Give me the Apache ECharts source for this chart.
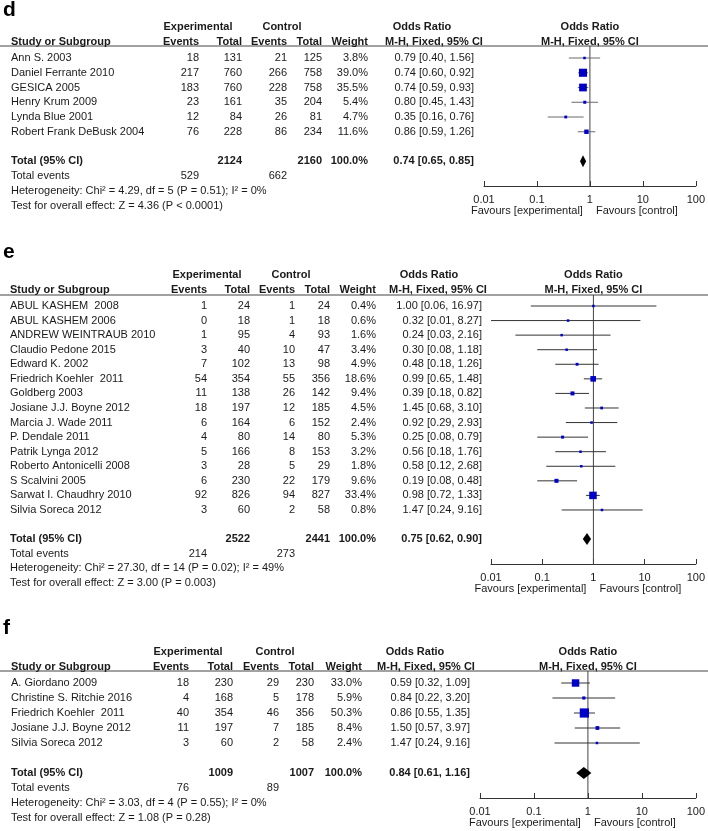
<!DOCTYPE html>
<html>
<head>
<meta charset="utf-8">
<title>Forest plots d-f</title>
<script src="https://cdn.jsdelivr.net/npm/echarts@6/dist/echarts.min.js"></script>
<style>
  html, body { margin: 0; padding: 0; background: #fff; }
  #chart { width: 708px; height: 831px; }
</style>
</head>
<body>
<div id="chart"></div>
<script>
const axisTicks = ['0.01', '0.1', '1', '10', '100']

// panel d
const dStudies = ['Ann S. 2003', 'Daniel Ferrante 2010', 'GESICA 2005', 'Henry Krum 2009', 'Lynda Blue 2001', 'Robert Frank DeBusk 2004']
const dExpEvents = [18, 217, 183, 23, 12, 76]
const dExpTotal = [131, 760, 760, 161, 84, 228]
const dCtlEvents = [21, 266, 228, 35, 26, 86]
const dCtlTotal = [125, 758, 758, 204, 81, 234]
const dWeight = [3.8, 39.0, 35.5, 5.4, 4.7, 11.6]
const dOR = [0.79, 0.74, 0.74, 0.80, 0.35, 0.86]
const dLow = [0.40, 0.60, 0.59, 0.45, 0.16, 0.59]
const dHigh = [1.56, 0.92, 0.93, 1.43, 0.76, 1.26]
const dTotals = [2124, 2160]
const dPooled = [0.74, 0.65, 0.85]
const dTotalEvents = [529, 662]
const dHetero = 'Heterogeneity: Chi² = 4.29, df = 5 (P = 0.51); I² = 0%'
const dTest = 'Test for overall effect: Z = 4.36 (P < 0.0001)'

// panel e
const eStudies = ['ABUL KASHEM  2008', 'ABUL KASHEM 2006', 'ANDREW WEINTRAUB 2010', 'Claudio Pedone 2015', 'Edward K. 2002',
  'Friedrich Koehler  2011', 'Goldberg 2003', 'Josiane J.J. Boyne 2012', 'Marcia J. Wade 2011', 'P. Dendale 2011',
  'Patrik Lynga 2012', 'Roberto Antonicelli 2008', 'S Scalvini 2005', 'Sarwat I. Chaudhry 2010', 'Silvia Soreca 2012']
const eExpEvents = [1, 0, 1, 3, 7, 54, 11, 18, 6, 4, 5, 3, 6, 92, 3]
const eExpTotal = [24, 18, 95, 40, 102, 354, 138, 197, 164, 80, 166, 28, 230, 826, 60]
const eCtlEvents = [1, 1, 4, 10, 13, 55, 26, 12, 6, 14, 8, 5, 22, 94, 2]
const eCtlTotal = [24, 18, 93, 47, 98, 356, 142, 185, 152, 80, 153, 29, 179, 827, 58]
const eWeight = [0.4, 0.6, 1.6, 3.4, 4.9, 18.6, 9.4, 4.5, 2.4, 5.3, 3.2, 1.8, 9.6, 33.4, 0.8]
const eOR = [1.00, 0.32, 0.24, 0.30, 0.48, 0.99, 0.39, 1.45, 0.92, 0.25, 0.56, 0.58, 0.19, 0.98, 1.47]
const eLow = [0.06, 0.01, 0.03, 0.08, 0.18, 0.65, 0.18, 0.68, 0.29, 0.08, 0.18, 0.12, 0.08, 0.72, 0.24]
const eHigh = [16.97, 8.27, 2.16, 1.18, 1.26, 1.48, 0.82, 3.10, 2.93, 0.79, 1.76, 2.68, 0.48, 1.33, 9.16]
const eTotals = [2522, 2441]
const ePooled = [0.75, 0.62, 0.90]
const eTotalEvents = [214, 273]
const eHetero = 'Heterogeneity: Chi² = 27.30, df = 14 (P = 0.02); I² = 49%'
const eTest = 'Test for overall effect: Z = 3.00 (P = 0.003)'

// panel f
const fStudies = ['A. Giordano 2009', 'Christine S. Ritchie 2016', 'Friedrich Koehler  2011', 'Josiane J.J. Boyne 2012', 'Silvia Soreca 2012']
const fExpEvents = [18, 4, 40, 11, 3]
const fExpTotal = [230, 168, 354, 197, 60]
const fCtlEvents = [29, 5, 46, 7, 2]
const fCtlTotal = [230, 178, 356, 185, 58]
const fWeight = [33.0, 5.9, 50.3, 8.4, 2.4]
const fOR = [0.59, 0.84, 0.86, 1.50, 1.47]
const fLow = [0.32, 0.22, 0.55, 0.57, 0.24]
const fHigh = [1.09, 3.20, 1.35, 3.97, 9.16]
const fTotals = [1009, 1007]
const fPooled = [0.84, 0.61, 1.16]
const fTotalEvents = [76, 89]
const fHetero = 'Heterogeneity: Chi² = 3.03, df = 4 (P = 0.55); I² = 0%'
const fTest = 'Test for overall effect: Z = 1.08 (P = 0.28)'

const FONT = '"Liberation Sans", Arial, sans-serif'
const INK = '#1a1a1a'

const panels = [
  {
    letter: 'd', letterTop: 0,
    studies: dStudies, expEvents: dExpEvents, expTotal: dExpTotal, ctlEvents: dCtlEvents, ctlTotal: dCtlTotal,
    weight: dWeight, or: dOR, lo: dLow, hi: dHigh,
    totals: dTotals, pooled: dPooled, totalEvents: dTotalEvents, het: dHetero, test: dTest,
    ciColor: '#6a6a6a',
    top: 46, axisY: 186, row0: 58, rowH: 14.75, left: 484, right: 697,
    cols: { study: 11, expE: 199, expT: 242, ctlE: 287, ctlT: 322, wt: 368, or: 474, expHdr: 198, ctlHdr: 282, orHdr1: 422, orHdr2: 434 }
  },
  {
    letter: 'e', letterTop: 242,
    studies: eStudies, expEvents: eExpEvents, expTotal: eExpTotal, ctlEvents: eCtlEvents, ctlTotal: eCtlTotal,
    weight: eWeight, or: eOR, lo: eLow, hi: eHigh,
    totals: eTotals, pooled: ePooled, totalEvents: eTotalEvents, het: eHetero, test: eTest,
    ciColor: '#333',
    top: 295, axisY: 564, row0: 306, rowH: 14.57, left: 491, right: 697,
    cols: { study: 10, expE: 207, expT: 250, ctlE: 295, ctlT: 330, wt: 376, or: 482, expHdr: 207, ctlHdr: 291, orHdr1: 429, orHdr2: 438 }
  },
  {
    letter: 'f', letterTop: 618,
    studies: fStudies, expEvents: fExpEvents, expTotal: fExpTotal, ctlEvents: fCtlEvents, ctlTotal: fCtlTotal,
    weight: fWeight, or: fOR, lo: fLow, hi: fHigh,
    totals: fTotals, pooled: fPooled, totalEvents: fTotalEvents, het: fHetero, test: fTest,
    ciColor: '#333',
    top: 671, axisY: 798, row0: 683, rowH: 15, left: 480, right: 697,
    cols: { study: 11, expE: 189, expT: 233, ctlE: 279, ctlT: 314, wt: 362, or: 470, expHdr: 188, ctlHdr: 275, orHdr1: 415, orHdr2: 426 }
  }
]

const fmtOR = (o, l, h) => `${o.toFixed(2)} [${l.toFixed(2)}, ${h.toFixed(2)}]`
const pct = w => w.toFixed(1) + '%'

function textEl (text, x, y, align, bold) {
  return {
    type: 'text', silent: true,
    style: {
      text: String(text), x, y,
      font: (bold ? 'bold ' : '') + '11px ' + FONT,
      fill: INK,
      align, textAlign: align,
      verticalAlign: 'middle', textVerticalAlign: 'middle'
    }
  }
}

// every line of the table, positioned on the panel's row scale
function tableLines (p) {
  const c = p.cols
  const cell = (text, x, align, bold) => ({ text, x, align: align || 'right', bold: !!bold })
  const lines = [
    { row: -2.1, cells: [cell('Experimental', c.expHdr, 'center', true), cell('Control', c.ctlHdr, 'center', true),
      cell('Odds Ratio', c.orHdr1, 'center', true), cell('Odds Ratio', 'mid', 'center', true)] },
    { row: -1.1, cells: [cell('Study or Subgroup', c.study, 'left', true), cell('Events', c.expE, 'right', true),
      cell('Total', c.expT, 'right', true), cell('Events', c.ctlE, 'right', true), cell('Total', c.ctlT, 'right', true),
      cell('Weight', c.wt, 'right', true), cell('M-H, Fixed, 95% CI', c.orHdr2, 'center', true),
      cell('M-H, Fixed, 95% CI', 'mid', 'center', true)] }
  ]
  p.studies.forEach((s, i) => {
    lines.push({ row: i, cells: [cell(s, c.study, 'left'), cell(p.expEvents[i], c.expE), cell(p.expTotal[i], c.expT),
      cell(p.ctlEvents[i], c.ctlE), cell(p.ctlTotal[i], c.ctlT), cell(pct(p.weight[i]), c.wt),
      cell(fmtOR(p.or[i], p.lo[i], p.hi[i]), c.or)] })
  })
  const tr = p.studies.length + 1
  lines.push({ row: tr, cells: [cell('Total (95% CI)', c.study, 'left', true), cell(p.totals[0], c.expT, 'right', true),
    cell(p.totals[1], c.ctlT, 'right', true), cell('100.0%', c.wt, 'right', true),
    cell(fmtOR(p.pooled[0], p.pooled[1], p.pooled[2]), c.or, 'right', true)] })
  lines.push({ row: tr + 1, cells: [cell('Total events', c.study, 'left'), cell(p.totalEvents[0], c.expE), cell(p.totalEvents[1], c.ctlE)] })
  lines.push({ row: tr + 2, cells: [cell(p.het, c.study, 'left')] })
  lines.push({ row: tr + 3, cells: [cell(p.test, c.study, 'left')] })
  return lines
}

const grids = []
const xAxes = []
const yAxes = []
const series = []
const graphics = []

panels.forEach((p, gi) => {
  const yMin = (p.top - p.row0) / p.rowH
  const yMax = (p.axisY - p.row0) / p.rowH
  grids.push({ left: p.left, width: p.right - p.left, top: p.top, height: p.axisY - p.top })
  xAxes.push({
    gridIndex: gi, type: 'log', logBase: 10, min: 0.01, max: 100, position: 'bottom',
    axisLine: { show: true, onZero: false, lineStyle: { color: '#333', width: 1 } },
    axisTick: { show: true, inside: true, length: 5, lineStyle: { color: '#333' } },
    minorTick: { show: false },
    splitLine: { show: false },
    axisLabel: {
      color: INK, fontSize: 11, fontFamily: FONT, margin: 8,
      formatter: v => axisTicks[Math.round(Math.log10(v)) + 2]
    }
  })
  yAxes.push({ gridIndex: gi, type: 'value', inverse: true, min: yMin, max: yMax, show: false })

  // line of no effect + header rule
  series.push({
    type: 'custom', xAxisIndex: gi, yAxisIndex: gi, silent: true,
    data: [[1, yMin]],
    renderItem: (params, api) => {
      const a = api.coord([1, yMin])
      const b = api.coord([1, yMax])
      return {
        type: 'group', children: [
          { type: 'line', shape: { x1: a[0], y1: a[1], x2: b[0], y2: b[1] }, style: { stroke: '#444', lineWidth: 1 } },
          { type: 'line', shape: { x1: 0, y1: a[1], x2: api.getWidth(), y2: a[1] }, style: { stroke: '#444', lineWidth: 1 } }
        ]
      }
    }
  })

  // study CIs and weighted squares
  series.push({
    type: 'custom', xAxisIndex: gi, yAxisIndex: gi, silent: true,
    data: p.or.map((o, i) => [o, i, p.lo[i], p.hi[i], p.weight[i]]),
    encode: { x: 0, y: 1 },
    renderItem: (params, api) => {
      const row = api.value(1)
      const est = api.coord([api.value(0), row])
      const lo = api.coord([api.value(2), row])
      const hi = api.coord([api.value(3), row])
      const s = Math.max(2.5, 1.3 * Math.sqrt(api.value(4)))
      return {
        type: 'group', children: [
          { type: 'line', shape: { x1: lo[0], y1: lo[1], x2: hi[0], y2: hi[1] }, style: { stroke: p.ciColor, lineWidth: 1 } },
          { type: 'rect', shape: { x: est[0] - s / 2, y: est[1] - s / 2, width: s, height: s }, style: { fill: '#0000c8' } }
        ]
      }
    }
  })

  // pooled diamond
  series.push({
    type: 'custom', xAxisIndex: gi, yAxisIndex: gi, silent: true,
    data: [[p.pooled[0], p.studies.length + 1, p.pooled[1], p.pooled[2]]],
    encode: { x: 0, y: 1 },
    renderItem: (params, api) => {
      const row = api.value(1)
      const est = api.coord([api.value(0), row])
      const lo = api.coord([api.value(2), row])
      const hi = api.coord([api.value(3), row])
      const h = 6
      return {
        type: 'polygon',
        shape: { points: [[lo[0], lo[1]], [est[0], est[1] - h], [hi[0], hi[1]], [est[0], est[1] + h]] },
        style: { fill: '#000' }
      }
    }
  })

  // table text
  const lines = tableLines(p)
  series.push({
    type: 'custom', xAxisIndex: gi, yAxisIndex: gi, silent: true,
    data: lines.map(l => [1, l.row]),
    encode: { x: 0, y: 1 },
    renderItem: (params, api) => {
      const line = lines[params.dataIndex]
      const pos = api.coord([1, line.row])
      return {
        type: 'group',
        children: line.cells.map(c => textEl(c.text, c.x === 'mid' ? pos[0] : c.x, pos[1], c.align, c.bold))
      }
    }
  })

  // favours labels under the axis
  series.push({
    type: 'custom', xAxisIndex: gi, yAxisIndex: gi, silent: true,
    data: [[1, yMax]],
    renderItem: (params, api) => {
      const pos = api.coord([1, yMax])
      return {
        type: 'group', children: [
          textEl('Favours [experimental]', pos[0] - 7, pos[1] + 25, 'right', false),
          textEl('Favours [control]', pos[0] + 6, pos[1] + 25, 'left', false)
        ]
      }
    }
  })

  graphics.push({
    type: 'text', left: 3, top: p.letterTop,
    style: { text: p.letter, font: 'bold 21px ' + FONT, fill: '#000' }
  })
})

const chart = echarts.init(document.getElementById('chart'), null, { renderer: 'canvas' })
chart.setOption({
  animation: false,
  backgroundColor: '#fff',
  grid: grids,
  xAxis: xAxes,
  yAxis: yAxes,
  series,
  graphic: graphics
})
window.addEventListener('resize', () => chart.resize())
</script>
</body>
</html>
